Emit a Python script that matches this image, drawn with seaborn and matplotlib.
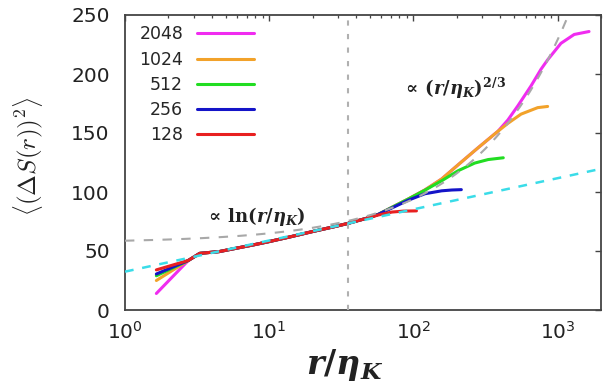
import numpy as np
import pandas as pd
import matplotlib
matplotlib.use("Agg")
import matplotlib.pyplot as plt
import seaborn as sns
from matplotlib.lines import Line2D
from matplotlib.ticker import LogLocator, NullFormatter

# ---------------- data ----------------
resolutions = ["2048", "1024", "512", "256", "128"]
colors = ["#F02CF0", "#F2A22A", "#22DD22", "#1414C8", "#E82020"]

# shared small-scale part of all curves
r_common = [2.75, 3.3, 4.5, 6, 8, 10, 14, 20, 28, 35, 42, 50]
S_common = [42, 48, 49.5, 52.5, 55.5, 58, 62, 66.5, 70.5, 73.3, 76, 78.5]

r_first = 1.65
S_first_2048 = 14
S_first_1024 = 25
S_first_512 = 29
S_first_256 = 30.5
S_first_128 = 34

r_tail_128 = [57, 71, 85, 105]
S_tail_128 = [80.5, 83, 83.8, 84]

r_tail_256 = [57, 71, 92, 120, 157, 185, 215]
S_tail_256 = [81, 86.5, 93, 98.5, 101, 101.7, 102]

r_tail_512 = [57, 71, 92, 120, 157, 204, 266, 330, 420]
S_tail_512 = [81, 87, 94, 101.5, 109.5, 118, 124.5, 127.5, 129]

r_tail_1024 = [57, 71, 92, 120, 157, 204, 281, 386, 450, 558, 728, 853]
S_tail_1024 = [81, 87, 94, 101.7, 111, 123, 137.5, 151.5, 158, 166, 171.5, 172.5]

r_tail_2048 = [57, 71, 92, 120, 157, 204, 281, 386, 452, 530, 655, 767, 853,
               1055, 1303, 1652]
S_tail_2048 = [81, 87, 94, 101.7, 111, 123, 137.5, 151.5, 161, 173, 190, 204,
               212, 226, 233.5, 236]

# guide lines: log fit and 2/3 power-law fit, plus the marked scale
log_fit_a, log_fit_b = 32.5, 26.4          # S = a + b*log10(r)
pow_fit_a, pow_fit_b = 57.0, 1.72          # S = a + b*r^(2/3)
r_mark = 35

xlim = (1, 2000)
ylim = (0, 250)
yticks = [0, 50, 100, 150, 200, 250]

# ---------------- build table ----------------
starts = {"2048": S_first_2048, "1024": S_first_1024, "512": S_first_512,
          "256": S_first_256, "128": S_first_128}
tails = {"2048": (r_tail_2048, S_tail_2048), "1024": (r_tail_1024, S_tail_1024),
         "512": (r_tail_512, S_tail_512), "256": (r_tail_256, S_tail_256),
         "128": (r_tail_128, S_tail_128)}
rows = []
for key in resolutions:
    rr = [r_first] + r_common + tails[key][0]
    ss = [starts[key]] + S_common + tails[key][1]
    for i, (a, b) in enumerate(zip(rr, ss)):
        rows.append({"N": key, "r": a, "S": b, "i": i})
df = pd.DataFrame(rows)

# ---------------- style ----------------
sns.set_style("white")
plt.rcParams["font.family"] = ["DejaVu Sans"]
plt.rcParams["mathtext.rm"] = "DejaVu Serif:bold"
plt.rcParams["mathtext.it"] = "DejaVu Serif:italic:bold"
plt.rcParams["mathtext.bf"] = "DejaVu Serif:bold"
plt.rcParams["mathtext.sf"] = "DejaVu Serif:bold"

fig = plt.figure(figsize=(6.03, 3.89), dpi=100)
ax = fig.add_axes([125 / 603, 1 - 310 / 389, 476 / 603, 295 / 389])

sns.lineplot(data=df, x="r", y="S", hue="N", hue_order=resolutions,
             palette=colors, sort=False, estimator=None, units="N",
             lw=2.2, legend=False, ax=ax)

rfit = np.logspace(0, np.log10(xlim[1]), 400)
ax.plot(rfit, pow_fit_a + pow_fit_b * rfit ** (2 / 3), color="#A8A8A8",
        lw=1.5, dashes=(4.5, 4.5), zorder=5)
ax.plot(rfit, log_fit_a + log_fit_b * np.log10(rfit), color="#3ADCE8",
        lw=1.8, dashes=(3.5, 3.5), zorder=6)
ax.axvline(r_mark, color="#B0B0B0", lw=1.5, dashes=(2.5, 4), zorder=4)

ax.set_xscale("log")
ax.set_xlim(*xlim)
ax.set_ylim(*ylim)
ax.set_yticks(yticks)
ax.xaxis.set_minor_locator(LogLocator(base=10, subs=np.arange(2, 10)))
ax.xaxis.set_minor_formatter(NullFormatter())
ax.set_xlabel("")
ax.set_ylabel("")

for s in ax.spines.values():
    s.set_color("#444444")
    s.set_linewidth(1.3)
ax.tick_params(which="both", direction="in", top=True, right=True,
               color="#444444", labelcolor="#222222")
ax.tick_params(which="major", length=4.5, width=1.0, labelsize=14.5)
ax.tick_params(which="minor", length=2.5, width=0.9)
ax.tick_params(axis="x", which="major", pad=8)
ax.tick_params(axis="y", which="major", pad=11)

# annotations
ax.text(3.6, 79, r"$\propto\,\ln(r/\eta_K)$", fontsize=13,
        math_fontfamily="custom", ha="left", va="center", color="#222222")
ax.text(84, 188, r"$\propto\,(r/\eta_K)^{2/3}$", fontsize=13,
        math_fontfamily="custom", ha="left", va="center", color="#222222")

# axis labels
fig.text(345 / 603, 1 - 365 / 389, r"$r/\eta_K$", fontsize=24,
         math_fontfamily="custom", ha="center", va="center", color="#222222")
fig.text(28 / 603, 1 - 156 / 389, r"$\left\langle(\Delta S(r))^2\right\rangle$",
         fontsize=18, math_fontfamily="cm", rotation=90, ha="center",
         va="center", color="#222222")

# legend (labels left of samples)
handles = [Line2D([], [], color=c, lw=2.2) for c in colors]
ax.legend(handles, resolutions, loc="upper left", bbox_to_anchor=(0.03, 0.965),
          markerfirst=False, frameon=False, fontsize=12.5, handlelength=3.3,
          handletextpad=0.8, labelspacing=0.42, borderpad=0, borderaxespad=0)

fig.savefig("out.png", dpi=100)
